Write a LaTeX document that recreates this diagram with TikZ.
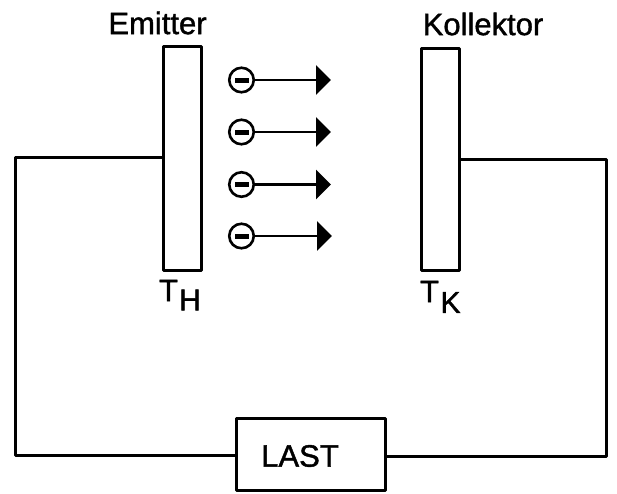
\documentclass[tikz,border=0pt]{standalone}
\usepackage{fontspec}
\setmainfont{Liberation Sans}[FakeBold=1.3]
\usetikzlibrary{arrows.meta}
\begin{document}
\begin{tikzpicture}[x=1pt,y=-1pt,
  plate/.style={draw,line width=3pt,line join=round,outer sep=0pt,minimum width=37.5pt,inner sep=0pt,anchor=north west,fill=white},
  wire/.style={draw,line width=3pt,line join=round},
  lab/.style={inner sep=0pt,font=\fontsize{31}{33}\selectfont},
  subl/.style={inner sep=0pt,font=\fontsize{30}{32}\selectfont},
  elec/.style={circle,draw,line width=2.6pt,minimum size=24.5pt,inner sep=0pt},
  minusbar/.style={draw=none,fill=black,minimum width=14pt,minimum height=5pt,inner sep=0pt},
  arr/.style={draw,line width=2.4pt,-{Triangle[length=15pt,width=29pt]}}]
\useasboundingbox (0,0) rectangle (617,493);
\fill[white] (0,0) rectangle (617,493);
\coordinate (a) at (15,157);
\coordinate (b) at (15,455);
\coordinate (c) at (606,159);
\coordinate (d) at (606,456);
\node[plate,minimum height=224pt] (E) at (163.5,46.5) {};
\node[plate,minimum height=222pt] (K) at (421.5,48.5) {};
\node[draw,line width=3pt,line join=round,outer sep=0pt,minimum width=149pt,minimum height=72.5pt,inner sep=0pt] (L) at (310.5,454.5) {};
\node[lab] (last) at (300,456) {LAST};
\node[lab] (em) at (157.5,23) {Emitter};
\node[lab] (ko) at (483,24) {Kollektor};
\node[lab] (th) at (168.5,290.5) {T};
\node[subl] (thh) at (190,300) {H};
\node[lab] (tk) at (429.5,291.5) {T};
\node[subl] (tkk) at (450.5,302.5) {K};
\foreach \i/\y/\xe in {1/80/331,2/132/331,3/184.5/331,4/236/332}{
  \node[elec] (e\i) at (241.5,\y) {};
  \node[minusbar] (m\i) at (e\i.center) {};
  \coordinate (t\i) at (\xe,\y);
  \draw[arr] (e\i) -- (t\i);
}
\draw[wire] (E.west |- a) -- (a) -- (b) -- (L.west |- b);
\draw[wire] (K.east |- c) -- (c) -- (d) -- (L.east |- d);
\end{tikzpicture}
\end{document}
